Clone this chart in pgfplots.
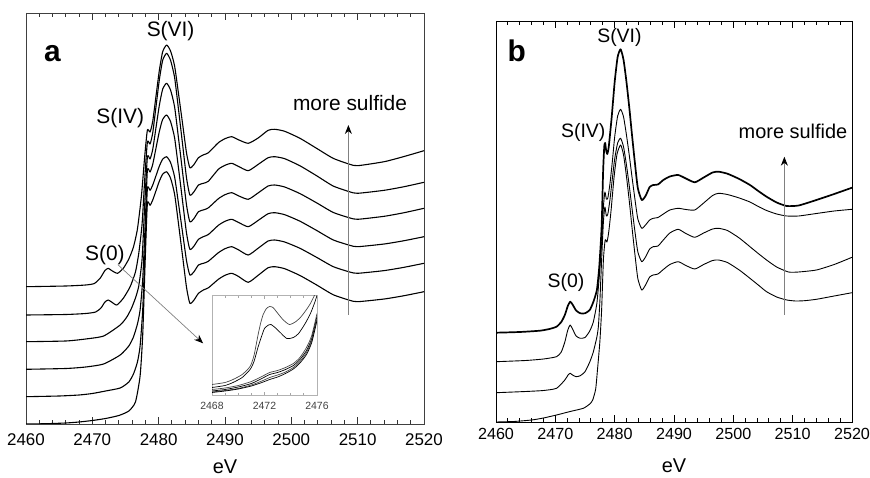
\documentclass[border=0pt]{standalone}
\usepackage{pgfplots}
\pgfplotsset{compat=1.18}
\usepackage{fontspec}
\setmainfont{Liberation Sans}
\usetikzlibrary{arrows.meta}
\newcommand{\fs}[1]{\fontsize{#1}{#1}\selectfont}
\pgfplotsset{
  spec/.style={
    scale only axis, xmin=2460, xmax=2520,
    xtick={2460,2470,2480,2490,2500,2510,2520},
    minor xtick={2462,2464,...,2518},
    ytick=\empty,
    tick align=inside,
    scaled x ticks=false,
    /pgf/number format/1000 sep={},
    /pgf/number format/assume math mode=true,
    clip mode=individual,
    cycle list={{black,solid}},
    every axis plot/.append style={no markers, smooth, tension=0.35, line join=round},
    xlabel={eV},
  }
}
\begin{document}
\begin{tikzpicture}
\useasboundingbox (0,0) rectangle (870bp,478bp);
% ---------------- panel a ----------------
\begin{axis}[spec, at={(26bp,54bp)}, anchor=south west, width=398bp, height=411bp,
  ymin=0, ymax=411, axis line style={black!75, line width=0.9bp},
  major tick length=7bp, minor tick length=4bp,
  every tick/.style={black!80, line width=1bp},
  xticklabel style={font=\fs{17}, yshift=-6bp},
  xlabel style={at={(axis description cs:0.5,0)}, anchor=center, yshift=-43bp, font=\fs{20}},
  every axis plot/.append style={line width=1.1bp}]
\addplot coordinates {(2460,137.3)(2466,138)(2469,139)(2470.3,140.5)(2471.2,146)(2471.9,153.5)(2472.4,155.7)(2472.9,153.5)(2473.8,150.7)(2474.7,156)(2475.5,165)(2476.2,177)(2476.8,195)(2477.4,228)(2477.9,268)(2478.3,294)(2478.7,292)(2479.1,302.5)(2479.6,328)(2480.1,353.5)(2480.6,372.2)(2481.2,379)(2481.8,372.9)(2482.4,358.1)(2483.0,329.9)(2483.6,300.5)(2484.2,271)(2484.7,256.3)(2485.3,259.3)(2486,266.3)(2486.8,269.3)(2487.5,271.3)(2489,281.3)(2490,285.3)(2491,287.3)(2492,284.3)(2493.5,280.7)(2495,286)(2496.5,293.7)(2497.5,294.7)(2499,292.7)(2501.3,285.7)(2503.8,275.7)(2506.3,265.7)(2508.8,259.7)(2510,258.3)(2514,262.3)(2517,267.5)(2520,273.3)};
\addplot coordinates {(2460,109)(2466,109.5)(2469,110.5)(2470.5,112)(2471.3,116)(2471.9,122)(2472.4,124)(2472.9,122)(2473.7,119)(2474.7,126)(2475.7,137.3)(2476.5,152)(2477,170.7)(2477.5,200)(2477.9,245)(2478.3,282)(2478.7,280)(2479.1,290.9)(2479.6,317.5)(2480.1,344.1)(2480.6,363.6)(2481.2,370.7)(2481.8,363.6)(2482.4,346.6)(2483.0,314)(2483.6,280)(2484.2,246)(2484.7,229)(2485.3,232)(2486,239)(2486.8,240.8)(2487.5,242.8)(2489,254.7)(2490,258.7)(2491,260.7)(2492,257.7)(2493.5,253.3)(2495,259.6)(2496.5,266.3)(2497.5,267.3)(2499,265.3)(2501.3,258.2)(2503.8,248.3)(2506.3,238)(2508.8,232.2)(2510,230.7)(2514,233.7)(2517,237.3)(2520,241.7)};
\addplot coordinates {(2460,82.3)(2466,83)(2469,85)(2471.7,88)(2474.2,99)(2475.2,107)(2475.9,115.7)(2476.5,126)(2477,138)(2477.5,165)(2477.9,220)(2478.3,267)(2478.7,265)(2479.1,274.4)(2479.6,296.5)(2480.1,318.6)(2480.6,334.8)(2481.2,340.7)(2481.8,333.8)(2482.4,317.2)(2483.0,285.3)(2483.6,252.1)(2484.2,218.9)(2484.7,202.3)(2485.3,205.3)(2486,212.3)(2486.8,214.2)(2487.5,216.2)(2489,225.3)(2490,229.3)(2491,231.3)(2492,228.3)(2493.5,224.7)(2495,231.1)(2496.5,238)(2497.5,239)(2499,237)(2501.3,230.4)(2503.8,221.2)(2506.3,211.6)(2508.8,206.1)(2510,204.7)(2514,207.7)(2517,211.3)(2520,215.7)};
\addplot coordinates {(2460,54.7)(2466,55.5)(2469,57)(2471.7,60)(2474.2,69)(2475.5,78)(2476.2,87)(2476.8,100)(2477.2,114)(2477.6,145)(2478.0,205)(2478.3,254)(2478.7,252)(2479.1,259.5)(2479.6,276)(2480.1,292.5)(2480.6,304.6)(2481.2,309)(2481.8,302.3)(2482.4,286.2)(2483.0,255.3)(2483.6,223)(2484.2,190.8)(2484.7,174.7)(2485.3,177.7)(2486,184.7)(2486.8,187.5)(2487.5,189.5)(2489,198.7)(2490,202.7)(2491,204.7)(2492,201.7)(2493.5,197.3)(2495,203.6)(2496.5,210.3)(2497.5,211.3)(2499,209.3)(2501.3,202.8)(2503.8,193.6)(2506.3,184.1)(2508.8,178.7)(2510,177.3)(2514,180)(2517,183.3)(2520,187.3)};
\addplot coordinates {(2460,27.3)(2465,28)(2468,29)(2470,30.5)(2472,33)(2474.2,36)(2475.5,42)(2476.2,50)(2476.8,62)(2477.2,78)(2477.6,115)(2478.0,185)(2478.3,235.7)(2478.7,233.7)(2479.1,238.9)(2479.6,248.3)(2480.1,257.8)(2480.6,264.8)(2481.2,267.3)(2481.8,261.4)(2482.4,247.2)(2483.0,220)(2483.6,191.6)(2484.2,163.2)(2484.7,149)(2485.3,152)(2486,159)(2486.8,160.8)(2487.5,162.8)(2489,171.3)(2490,175.3)(2491,177.3)(2492,174.3)(2493.5,169)(2495,175.8)(2496.5,183)(2497.5,184)(2499,182)(2501.3,175.7)(2503.8,166.7)(2506.3,157.4)(2508.8,152)(2510,150.7)(2514,153.4)(2517,156.7)(2520,160.7)};
\addplot coordinates {(2460,0)(2463,0.3)(2466,1)(2468,2)(2470,3.5)(2472,5.5)(2474,8.5)(2475.5,13)(2476.5,22)(2477.2,48)(2477.6,90)(2478.0,170)(2478.3,220.7)(2478.7,218.7)(2479.1,223.9)(2479.6,233.3)(2480.1,242.8)(2480.6,249.8)(2481.2,252.3)(2481.8,245.7)(2482.4,229.9)(2483.0,199.7)(2483.6,168.1)(2484.2,136.5)(2484.7,120.7)(2485.3,123.7)(2486,130.7)(2486.8,134.2)(2487.5,136.2)(2489,144.7)(2490,148.7)(2491,150.7)(2492,147.7)(2493.5,141.7)(2495,148.7)(2496.5,156.3)(2497.5,157.3)(2499,155.3)(2501.3,148.5)(2503.8,139.1)(2506.3,129.3)(2508.8,123.7)(2510,122.3)(2514,125)(2517,128.3)(2520,132.3)};
\node[font=\fs{30}\bfseries] at (axis cs:2464.0,370.7) {a};
\node[font=\fs{21}] at (axis cs:2481.8,393.3) {S(VI)};
\node[font=\fs{21}] at (axis cs:2474.2,305.7) {S(IV)};
\node[font=\fs{21}] at (axis cs:2471.9,169) {S(0)};
\node[font=\fs{21}] at (axis cs:2508.85,320.7) {more sulfide};
\draw[gray, line width=0.9bp, -{Stealth[black,length=9bp,width=7bp]}] (axis cs:2508.6,109) -- (axis cs:2508.6,299);
\draw[gray, line width=0.7bp, -{Stealth[black,length=9bp,width=7bp]}] (axis cs:2473.9,159) -- (axis cs:2486.7,80.7);
\end{axis}
% ---------------- inset ----------------
\begin{axis}[scale only axis, at={(212bp,82.5bp)}, anchor=south west, width=105bp, height=100bp,
  xmin=2468, xmax=2476, ymin=0, ymax=100,
  xtick={2468,2472,2476}, minor xtick={2469,2470,2471,2473,2474,2475}, ytick=\empty,
  tick align=inside, major tick length=3.5bp, minor tick length=2.5bp,
  scaled x ticks=false, /pgf/number format/1000 sep={},
  /pgf/number format/assume math mode=true,
  axis line style={gray!60, line width=0.7bp}, every tick/.style={gray!70, line width=0.8bp},
  axis background/.style={fill=white},
  xticklabel style={font=\fs{10.5}, text=black!75, yshift=-3bp},
  cycle list={{gray!55!black,solid}},
  every axis plot/.append style={no markers, smooth, tension=0.4, line width=0.7bp}]
\addplot coordinates {(2468,11)(2469,13)(2469.6,16)(2470.3,21)(2470.9,29)(2471.2,40)(2471.5,60)(2471.7,72)(2471.9,81)(2472.15,87)(2472.4,89)(2472.65,88)(2472.9,84)(2473.4,76)(2473.9,71)(2474.4,74)(2474.8,79)(2475.2,86)(2475.5,92)(2475.8,100)(2476,106)};
\addplot coordinates {(2468,8)(2469,10)(2469.6,13)(2470.3,18)(2470.9,26)(2471.2,34)(2471.5,48)(2471.8,60)(2472.0,67)(2472.3,70.5)(2472.5,71)(2472.8,68)(2473.2,63)(2473.7,57)(2474.2,58)(2474.6,62)(2475.1,72)(2475.5,82)(2475.8,92)(2476,100)};
\addplot coordinates {(2468,6)(2469,7.5)(2470,10)(2471,14)(2471.8,19)(2472.4,23)(2473,25)(2473.6,28)(2474.2,32)(2474.7,38)(2475.2,48)(2475.6,60)(2476,82)};
\addplot coordinates {(2468,4.5)(2469,6)(2470,8.5)(2471,12)(2471.8,17)(2472.4,21)(2473,23)(2473.6,26)(2474.2,30)(2474.7,36)(2475.2,45)(2475.6,57)(2476,79)};
\addplot coordinates {(2468,3.5)(2469,5)(2470,7)(2471,10.5)(2471.8,14.5)(2472.4,18)(2473,20.5)(2473.6,23.5)(2474.2,28)(2474.7,34)(2475.2,43)(2475.6,55)(2476,77)};
\addplot coordinates {(2468,3)(2469,4.5)(2470,6.5)(2471,9.5)(2471.8,13)(2472.4,16)(2473,18.5)(2473.6,22)(2474.2,26.5)(2474.7,32.5)(2475.2,41)(2475.6,53)(2476,75)};
\end{axis}
% ---------------- panel b ----------------
\begin{axis}[spec, at={(496bp,56bp)}, anchor=south west, width=356bp, height=401bp,
  ymin=0, ymax=401, axis line style={black, line width=0.8bp},
  major tick length=7bp, minor tick length=4bp,
  every tick/.style={black, line width=1bp},
  xticklabel style={font=\fs{16.2}, yshift=-3bp},
  xlabel style={at={(axis description cs:0.5,0)}, anchor=center, yshift=-44bp, font=\fs{20}},
  every axis plot/.append style={line width=0.9bp}]
\addplot[black, line width=1.7bp] coordinates {(2460,89.3)(2464,90)(2467.4,91.3)(2469,93)(2470.2,95.3)(2471,100)(2471.6,107)(2472.1,116)(2472.5,120.3)(2472.9,117.5)(2473.5,111.5)(2474.2,108.7)(2475,108.7)(2475.8,112)(2476.4,120)(2477,132)(2477.4,155)(2477.8,195)(2478.05,250)(2478.25,276)(2478.4,279)(2478.55,272)(2478.75,268)(2479.0,275)(2479.5,305)(2480.0,340)(2480.5,365)(2481.0,372.7)(2481.5,362)(2482.0,339.5)(2482.5,312.4)(2482.9,288.3)(2483.4,259.7)(2483.9,234)(2484.56,222)(2485.2,226)(2485.9,235)(2486.5,237)(2487.3,237.5)(2488.2,242)(2489.3,245.5)(2490.7,247)(2492,243.5)(2493.5,239.7)(2495,244.5)(2496.5,249.5)(2497.5,250.3)(2499,248.3)(2501,243)(2502.8,237)(2504.2,231)(2505.6,225.3)(2507.3,219.5)(2509,216)(2511,216.5)(2514,222)(2517,228)(2520,234.3)};
\addplot coordinates {(2460,60.3)(2465,61.5)(2468,63)(2470.2,65.3)(2471,70)(2471.6,80)(2472.1,92)(2472.5,97)(2472.9,93)(2473.5,86)(2474.2,83.7)(2475,84.5)(2475.8,91)(2476.4,100)(2477,118.7)(2477.4,145)(2477.8,178.7)(2478.1,215)(2478.35,230)(2478.6,223)(2478.85,224)(2479.2,238)(2479.6,260)(2480.0,285)(2480.5,306)(2481.0,312.7)(2481.5,305)(2482.0,286.5)(2482.5,265)(2482.9,246)(2483.4,223.5)(2483.9,203.2)(2484.56,193.7)(2485.2,197)(2485.9,202)(2486.5,203.7)(2487.3,204.5)(2488.2,208)(2489.3,212)(2490.7,213.7)(2492,212.5)(2493.5,212)(2495,219)(2496.5,226.5)(2497.5,228.7)(2499,227.5)(2501,224)(2502.8,220)(2504.2,215.5)(2505.6,211.5)(2507.3,208)(2509,206)(2511,206)(2514,208.5)(2517,211)(2520,212.7)};
\addplot coordinates {(2460,29.3)(2465,30.5)(2468,31.5)(2470.2,33.7)(2471.6,42)(2472.2,47.5)(2472.5,48.7)(2472.9,47)(2473.5,45.3)(2474.2,46.3)(2475,50.3)(2475.8,60)(2476.4,70)(2477,85)(2477.25,95.3)(2477.5,120)(2477.8,162)(2478.1,200)(2478.35,215)(2478.6,206)(2478.85,208)(2479.2,222)(2479.6,243)(2480.0,263)(2480.5,279)(2481.0,283.7)(2481.5,275)(2482.0,256.5)(2482.5,234.3)(2482.9,214.6)(2483.4,191.2)(2483.9,170.2)(2484.56,160.3)(2485.2,165)(2485.9,173)(2486.5,175.3)(2487.3,176)(2488.2,182)(2489.3,189)(2490.7,192.7)(2492,188.5)(2493.5,184.7)(2495,189)(2496.5,193)(2497.5,193.7)(2499,191.5)(2501,184)(2502.8,175.3)(2504.2,168.5)(2505.6,162)(2507.3,155)(2509.3,150)(2511,150)(2514,152)(2517,157.5)(2520,164.7)};
\addplot coordinates {(2460,0)(2463,0.5)(2466,2)(2468,4)(2470.2,7)(2472.5,10.5)(2474.7,13.7)(2475.8,18)(2476.3,22)(2476.8,33)(2477.1,52)(2477.5,80)(2477.8,112)(2478.1,162)(2478.4,182)(2478.7,180)(2479.0,190)(2479.4,212)(2479.9,245)(2480.4,268)(2481.0,277)(2481.5,267)(2482.0,245)(2482.5,219)(2482.9,195.8)(2483.4,168.3)(2483.9,143.6)(2484.56,132)(2485.2,137)(2485.9,145)(2486.5,147)(2487.3,148)(2488.2,152.5)(2489.3,157.5)(2490.7,160.3)(2492,156.5)(2493.5,153)(2495,157.5)(2496.5,161.5)(2497.5,162)(2499,159.5)(2501,152)(2502.8,143.7)(2504.2,137)(2505.6,130.3)(2507.3,125)(2509,122)(2510.5,121)(2512,121.3)(2514,122.7)(2517,126)(2520,129.3)};
\node[font=\fs{30}\bfseries] at (axis cs:2463.5,371.3) {b};
\node[font=\fs{19.5}] at (axis cs:2480.8,384.7) {S(VI)};
\node[font=\fs{19.5}] at (axis cs:2474.7,289.3) {S(IV)};
\node[font=\fs{19.5}] at (axis cs:2471.8,139.3) {S(0)};
\node[font=\fs{20}] at (axis cs:2510.05,290.3) {more sulfide};
\draw[gray, line width=0.9bp, -{Stealth[black,length=9bp,width=7bp]}] (axis cs:2508.6,107) -- (axis cs:2508.6,265.3);
\end{axis}
\end{tikzpicture}
\end{document}
